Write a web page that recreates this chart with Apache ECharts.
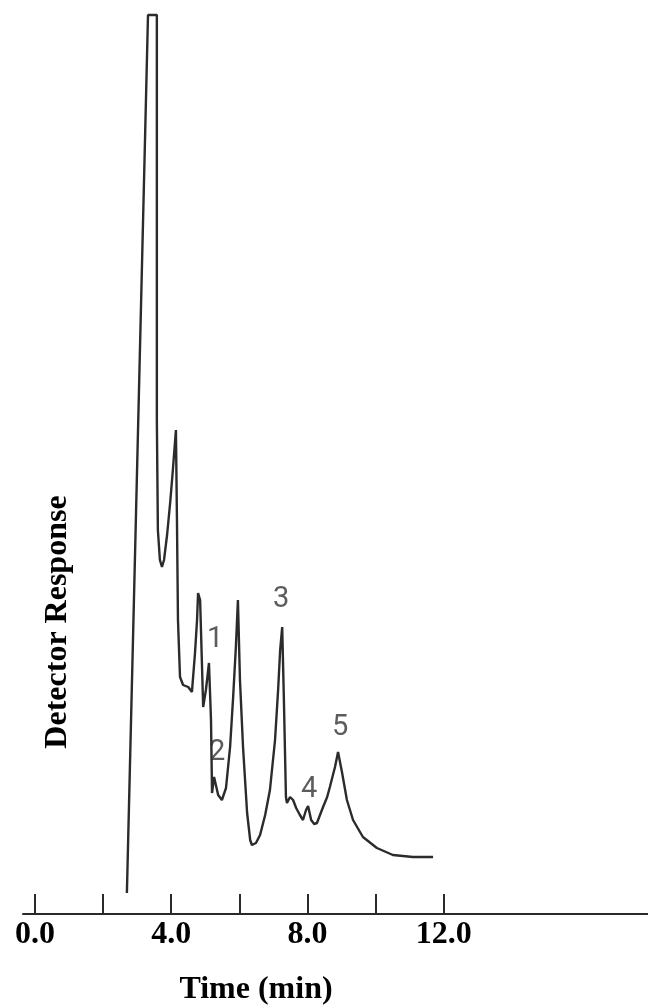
<!DOCTYPE html>
<html>
<head>
<meta charset="utf-8">
<style>
  html, body { margin: 0; padding: 0; background: #ffffff; }
  #chart { width: 648px; height: 1008px; }
</style>
<script src="https://cdn.jsdelivr.net/npm/echarts@6/dist/echarts.min.js"></script>
</head>
<body>
<div id="chart"></div>
<script>
// Retention time (min) of each traced point of the chromatogram
var timeMin = [2.70, 3.32, 3.58, 3.58, 3.58, 3.61, 3.67, 3.73, 3.79, 3.88,
  3.97, 4.05, 4.14, 4.17, 4.20, 4.26, 4.35, 4.50, 4.61, 4.70,
  4.76, 4.79, 4.85, 4.94, 5.02, 5.11, 5.17, 5.20, 5.26, 5.38,
  5.49, 5.61, 5.73, 5.82, 5.90, 5.96, 6.02, 6.11, 6.23, 6.32,
  6.37, 6.49, 6.61, 6.76, 6.90, 7.05, 7.14, 7.20, 7.26, 7.31,
  7.37, 7.40, 7.49, 7.58, 7.67, 7.78, 7.87, 7.96, 8.02, 8.11,
  8.20, 8.28, 8.37, 8.46, 8.58, 8.66, 8.81, 8.90, 9.02, 9.16,
  9.34, 9.63, 10.04, 10.51, 11.10, 11.69];
// Detector response (arbitrary units) at each point
var response = [21, 899, 899, 614, 494, 384, 354, 347, 354, 379,
  411, 444, 484, 394, 294, 237, 229, 227, 222, 261,
  294, 321, 314, 207, 224, 251, 194, 121, 137, 119,
  114, 126, 167, 217, 267, 314, 234, 167, 101, 74,
  69, 71, 79, 99, 124, 174, 224, 264, 287, 214,
  117, 111, 117, 114, 106, 99, 94, 104, 108, 94,
  90, 91, 99, 107, 117, 127, 147, 162, 141, 114,
  94, 77, 66, 59, 57, 57];
// Peak annotations
var peakNames = ['1', '2', '3', '4', '5'];
var peakNameTime = [5.29, 5.35, 7.23, 8.05, 8.96];
var peakNameResp = [274, 161, 314, 124, 186];
// Axis ticks and labels
var tickValues = [0, 2, 4, 6, 8, 10, 12];
var labelValues = [0, 4, 8, 12];

var lineData = timeMin.map(function (t, i) { return [t, response[i]]; });
var labelData = peakNames.map(function (n, i) {
  return { name: n, value: [peakNameTime[i], peakNameResp[i]] };
});

var chart = echarts.init(document.getElementById('chart'), null, { renderer: 'canvas' });
chart.setOption({
  backgroundColor: '#ffffff',
  animation: false,
  grid: { left: 23, right: 0, top: 14, bottom: 94 },
  xAxis: {
    type: 'value',
    min: -0.35,
    max: 18,
    splitLine: { show: false },
    axisLine: { show: true, onZero: false, lineStyle: { color: '#2a2a2a', width: 2 } },
    axisTick: {
      show: true, inside: true, length: 20,
      customValues: tickValues,
      lineStyle: { color: '#2a2a2a', width: 2 }
    },
    axisLabel: {
      show: true,
      customValues: labelValues,
      formatter: function (v) { return Number(v).toFixed(1); },
      fontFamily: 'Liberation Serif',
      fontWeight: 'bold',
      fontSize: 32,
      color: '#000000',
      margin: 5
    }
  },
  yAxis: {
    type: 'value',
    min: 0,
    max: 900,
    show: false
  },
  graphic: [
    {
      type: 'text',
      x: 256, y: 990,
      style: {
        text: 'Time (min)',
        fontFamily: 'Liberation Serif', fontWeight: 'bold', fontSize: 32,
        fill: '#000000',
        align: 'center', verticalAlign: 'middle',
        textAlign: 'center', textVerticalAlign: 'middle'
      }
    },
    {
      type: 'text',
      x: 58, y: 622,
      rotation: Math.PI / 2,
      style: {
        text: 'Detector Response',
        fontFamily: 'Liberation Serif', fontWeight: 'bold', fontSize: 32,
        fill: '#000000',
        align: 'center', verticalAlign: 'middle',
        textAlign: 'center', textVerticalAlign: 'middle'
      }
    }
  ],
  series: [
    {
      type: 'line',
      data: lineData,
      showSymbol: false,
      symbol: 'none',
      smooth: false,
      lineStyle: { color: '#2b2b2b', width: 2.4 },
      z: 3
    },
    {
      type: 'scatter',
      data: labelData,
      symbolSize: 0,
      label: {
        show: true,
        position: 'inside',
        formatter: '{b}',
        fontFamily: 'Roboto',
        fontWeight: 'normal',
        fontSize: 29,
        color: '#333333'
      },
      z: 4
    }
  ]
});
</script>
</body>
</html>
